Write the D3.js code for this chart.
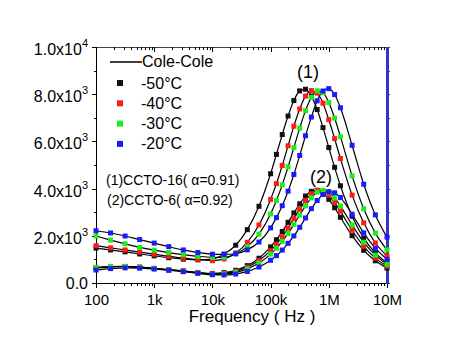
<!DOCTYPE html>
<html><head><meta charset="utf-8">
<script src="https://cdn.jsdelivr.net/npm/d3@7/dist/d3.min.js"></script>
<style>body{margin:0;background:#fff}svg{display:block}text{font-family:"Liberation Sans",Arial,sans-serif}</style>
</head><body>
<svg id="c" width="458" height="356"></svg>
<script>
// ---- data ----
const freqs = [100, 178, 316, 562, 1000, 1778, 3162, 5623, 10000, 15849, 25119, 39811, 63096, 100000, 125893, 158489, 199526, 251189, 316228, 398107, 501187, 630957, 794328, 1000000, 1258925, 1584893, 2511886, 3981072, 6309573, 10000000];
const ccto16_m50 = [1480,1400,1320,1230,1150,1070,1010,980,1010,1225,1600,2260,3250,4630,5450,6290,7075,7730,8140,8210,7920,7350,6585,5740,4900,4120,2830,1900,1280,855];
const ccto16_m40 = [1580,1490,1400,1310,1220,1130,1050,1000,945,1020,1270,1725,2460,3540,4210,4980,5815,6645,7375,7920,8155,8045,7620,6920,6120,5275,3725,2550,1695,1150];
const ccto16_m30 = [1990,1820,1660,1510,1390,1290,1200,1130,1090,1090,1230,1540,2070,2925,3495,4160,4920,5740,6565,7305,7865,8145,8065,7650,6990,6200,4540,3145,2115,1405];
const ccto16_m20 = [2215,2120,1990,1840,1690,1540,1400,1290,1220,1210,1240,1405,1735,2335,2770,3275,3890,4600,5405,6240,7030,7720,8135,8235,7985,7425,5835,4185,2885,1945];
const ccto6_m50 = [630,685,700,670,620,565,510,445,405,440,540,735,1050,1530,1835,2180,2570,2970,3355,3685,3885,3930,3810,3545,3190,2785,2005,1385,940,635];
const ccto6_m40 = [640,690,700,670,615,560,505,435,385,410,495,670,950,1370,1640,1960,2330,2730,3130,3495,3775,3920,3900,3715,3410,3035,2235,1555,1055,715];
const ccto6_m30 = [665,700,705,670,615,555,495,420,370,380,450,600,845,1225,1470,1765,2100,2480,2880,3270,3610,3850,3925,3845,3605,3260,2460,1730,1180,790];
const ccto6_m20 = [550,610,640,630,590,540,480,410,350,340,380,490,675,965,1160,1395,1680,1995,2360,2755,3150,3495,3750,3870,3820,3620,2915,2125,1475,1000];
const temps = ["-50°C", "-40°C", "-30°C", "-20°C"];
const colors = ["#111111", "#ff1a1a", "#1aee1a", "#1a1aff"];
const xTickVals = [100, 1000, 10000, 100000, 1000000, 10000000];
const xTickLabels = ["100", "1k", "10k", "100k", "1M", "10M"];
const yTickVals = [0, 2000, 4000, 6000, 8000, 10000];
const yTickMant = ["0.0", "2.0x10", "4.0x10", "6.0x10", "8.0x10", "1.0x10"];
const yTickExp = ["", "3", "3", "3", "3", "4"];
const notes = ["(1)CCTO-16( α=0.91)", "(2)CCTO-6( α=0.92)"];

// ---- chart ----
const svg = d3.select("#c");
const L = 96, R = 387, T = 47, B = 283;
const x = d3.scaleLog().domain([100, 1e7]).range([L, R]);
const y = d3.scaleLinear().domain([0, 10000]).range([B, T]);
const minorX = [];
for (let d = 100; d < 1e7; d *= 10) for (let k = 2; k <= 9; k++) minorX.push(d * k);
const minorY = d3.range(1000, 10000, 2000);

// bottom axis
const gB = svg.append("g").attr("transform", `translate(0,${B})`);
gB.call(d3.axisBottom(x).tickValues(xTickVals).tickFormat((d, i) => xTickLabels[i]).tickSize(5).tickSizeOuter(0));
gB.append("g").call(d3.axisBottom(x).tickValues(minorX).tickFormat("").tickSize(3)).select(".domain").remove();
gB.selectAll("text").attr("font-size", 15).attr("fill", "#000").attr("dy", "0.95em");
// top axis (ticks inward)
const gT = svg.append("g").attr("transform", `translate(0,${T})`);
gT.call(d3.axisBottom(x).tickValues(xTickVals).tickFormat("").tickSize(5).tickSizeOuter(0));
gT.append("g").call(d3.axisBottom(x).tickValues(minorX).tickFormat("").tickSize(3)).select(".domain").remove();
gT.select(".domain").attr("stroke", "#444");
// left axis
const gL = svg.append("g").attr("transform", `translate(${L},0)`);
gL.call(d3.axisLeft(y).tickValues(yTickVals).tickFormat("").tickSize(4).tickSizeOuter(0));
gL.append("g").call(d3.axisLeft(y).tickValues(minorY).tickFormat("").tickSize(2)).select(".domain").remove();
yTickVals.forEach((v, i) => {
  const t = gL.append("text").attr("text-anchor", "end").attr("font-size", 16).attr("fill", "#000")
    .attr("x", -8).attr("y", y(v) + (yTickExp[i] ? 8 : 5.5));
  t.append("tspan").text(yTickMant[i]);
  if (yTickExp[i]) t.append("tspan").attr("font-size", 11).attr("dy", -8).text(yTickExp[i]);
});
// right axis (blue)
const gR = svg.append("g").attr("transform", `translate(${R},0)`);
gR.call(d3.axisRight(y).tickValues(d3.range(0, 10001, 1000)).tickFormat("").tickSize(3).tickSizeOuter(0));
gR.selectAll("line").attr("stroke", "#3333cc");
gR.select(".domain").attr("stroke", "#3333cc").attr("stroke-width", 2.2);
svg.selectAll(".tick line, .domain").attr("shape-rendering", "crispEdges");

// series
const groups = [[ccto16_m50, ccto16_m40, ccto16_m30, ccto16_m20], [ccto6_m50, ccto6_m40, ccto6_m30, ccto6_m20]];
const line = d3.line().x((d, i) => x(freqs[i])).y(d => y(d)).curve(d3.curveMonotoneX);
const plot = svg.append("g");
groups.forEach(g => g.forEach(vals => {
  plot.append("path").attr("d", line(vals)).attr("fill", "none").attr("stroke", "#000").attr("stroke-width", 1.2);
}));
groups.forEach(g => g.forEach((vals, si) => {
  plot.selectAll(null).data(vals).enter().append("rect")
    .attr("x", (d, i) => x(freqs[i]) - 2.5).attr("y", d => y(d) - 2.5)
    .attr("width", 5).attr("height", 5).attr("fill", colors[si]);
}));

// legend
const lg = svg.append("g");
lg.append("line").attr("x1", 110).attr("x2", 142).attr("y1", 62).attr("y2", 62).attr("stroke", "#000").attr("stroke-width", 1.5);
lg.append("text").attr("x", 142).attr("y", 67).attr("font-size", 16).text("Cole-Cole");
temps.forEach((t, i) => {
  lg.append("rect").attr("x", 117).attr("y", 80 + i * 20.3).attr("width", 6).attr("height", 6).attr("fill", colors[i]);
  lg.append("text").attr("x", 141).attr("y", 88.5 + i * 20.3).attr("font-size", 16).text(t);
});
// annotations
svg.append("text").attr("x", 106).attr("y", 185).attr("font-size", 14).text(notes[0]);
svg.append("text").attr("x", 107).attr("y", 205).attr("font-size", 14).text(notes[1]);
svg.append("text").attr("x", 297).attr("y", 78).attr("font-size", 18).text("(1)");
svg.append("text").attr("x", 310).attr("y", 183).attr("font-size", 18).text("(2)");
// axis title
svg.append("text").attr("x", 252).attr("y", 322).attr("text-anchor", "middle").attr("font-size", 17).text("Frequency ( Hz )");
</script>
</body></html>
